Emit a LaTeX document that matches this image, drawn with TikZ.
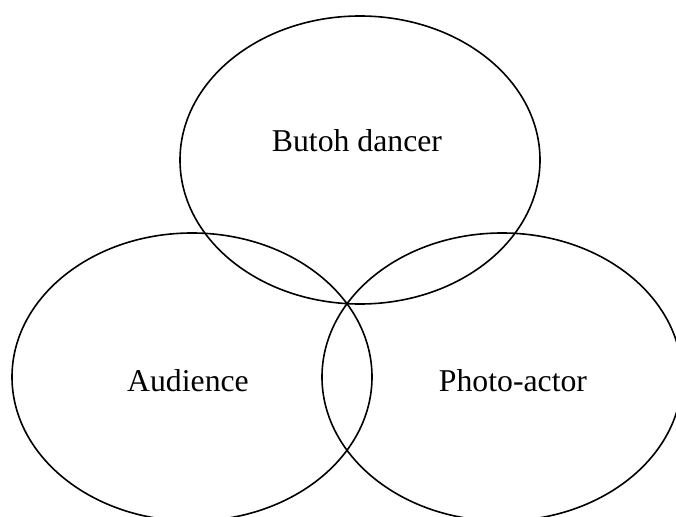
\documentclass[tikz,border=0pt]{standalone}
\usepackage{fontspec}
\setmainfont{Liberation Serif}
\usetikzlibrary{shapes.geometric}
\begin{document}
\begin{tikzpicture}[x=0.75pt,y=-0.75pt,
  venn/.style={draw=black, line width=1.2pt, ellipse, inner sep=0pt,
    minimum width=270pt, minimum height=216pt},
  lbl/.style={font=\fontsize{23.8}{28}\selectfont, anchor=base, inner sep=0pt}]
\fill[white] (0,0) rectangle (676,517);
\useasboundingbox (0,0) rectangle (676,517);
\clip (0,0) rectangle (676,517);
\node[venn] (top) at (360,160) {};
\node[venn] (left) at (192,377) {};
\node[venn] (right) at (502,377) {};
\node[lbl] (t1) at (357,152) {Butoh dancer};
\node[lbl] (t2) at (188,392) {Audience};
\node[lbl] (t3) at (513,392) {Photo-actor};
\end{tikzpicture}
\end{document}
